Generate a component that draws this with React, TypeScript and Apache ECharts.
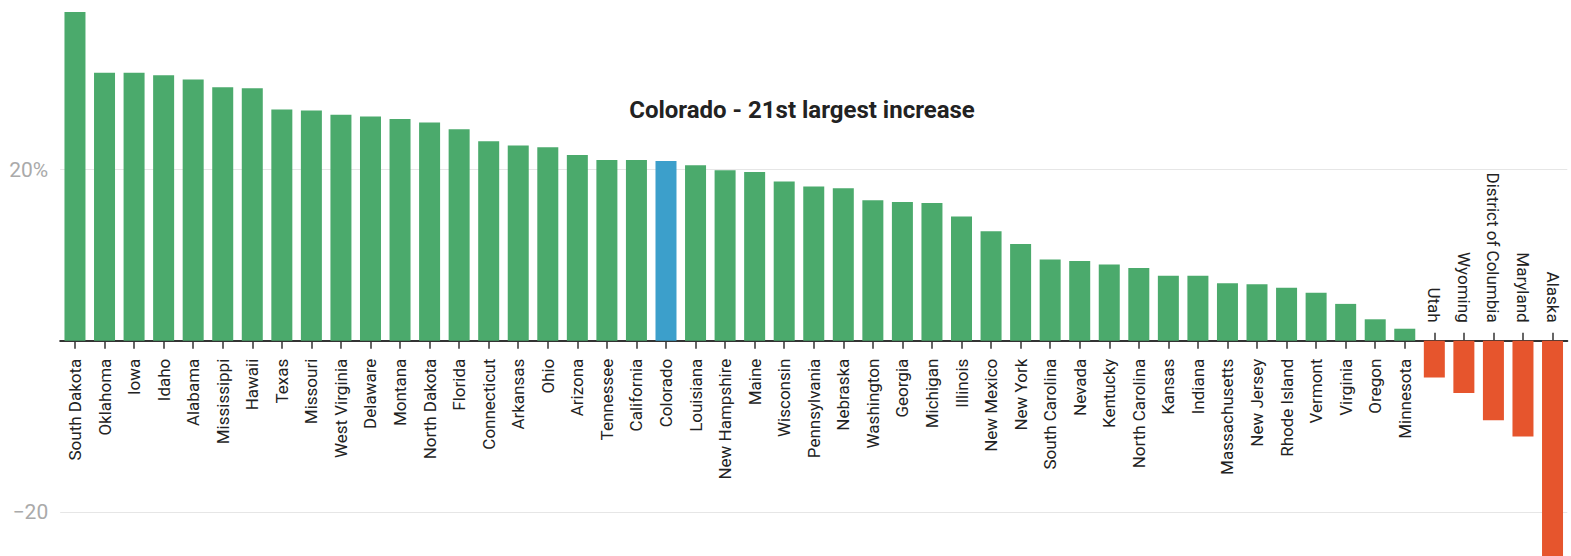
import React, { useEffect, useRef } from "react";
import * as echarts from "echarts";

const states: string[] = [
  "South Dakota", "Oklahoma", "Iowa", "Idaho", "Alabama", "Mississippi", "Hawaii",
  "Texas", "Missouri", "West Virginia", "Delaware", "Montana", "North Dakota", "Florida",
  "Connecticut", "Arkansas", "Ohio", "Arizona", "Tennessee", "California", "Colorado",
  "Louisiana", "New Hampshire", "Maine", "Wisconsin", "Pennsylvania", "Nebraska",
  "Washington", "Georgia", "Michigan", "Illinois", "New Mexico", "New York",
  "South Carolina", "Nevada", "Kentucky", "North Carolina", "Kansas", "Indiana",
  "Massachusetts", "New Jersey", "Rhode Island", "Vermont", "Virginia", "Oregon",
  "Minnesota", "Utah", "Wyoming", "District of Columbia", "Maryland", "Alaska",
];

const changes: number[] = [
  38.4, 31.3, 31.3, 31.0, 30.5, 29.6, 29.5,
  27.0, 26.9, 26.4, 26.2, 25.9, 25.5, 24.7,
  23.3, 22.8, 22.6, 21.7, 21.1, 21.1, 21.0,
  20.5, 19.9, 19.7, 18.6, 18.0, 17.8,
  16.4, 16.2, 16.1, 14.5, 12.8, 11.3,
  9.5, 9.3, 8.9, 8.5, 7.6, 7.6,
  6.7, 6.6, 6.2, 5.6, 4.3, 2.5,
  1.4, -4.3, -6.1, -9.3, -11.2, -26.0,
];

const highlighted = "Colorado";
const titleText = "Colorado - 21st largest increase";
const yTicks: { value: number; label: string }[] = [
  { value: 20, label: "20%" },
  { value: -20, label: "\u221220" },
];

const GREEN = "#4BAA6C";
const BLUE = "#3C9FCB";
const ORANGE = "#E6552D";
const FONT = "Roboto, 'Noto Sans', sans-serif";

// layout (inner chart div is shifted up by 20px)
const GRID_TOP = 18.3;
const GRID_BOTTOM = 16.9;
const INNER_H = 720;
const Y_MIN = -40;
const Y_MAX = 40;

export default function App() {
  const ref = useRef<HTMLDivElement>(null);

  useEffect(() => {
    if (!ref.current) return;
    const chart = echarts.init(ref.current, undefined, { renderer: "svg" });
    const isNeg = (i: number) => changes[i] < 0;

    const plotH = INNER_H - GRID_TOP - GRID_BOTTOM;
    const zeroFromTop = (plotH * Y_MAX) / (Y_MAX - Y_MIN);
    const zeroFromBottom = plotH - zeroFromTop;

    const barData = changes.map((v, i) => ({
      value: v,
      itemStyle: {
        color: states[i] === highlighted ? BLUE : v < 0 ? ORANGE : GREEN,
      },
    }));

    const labelBase = {
      rotate: 90,
      fontSize: 17,
      color: "#222",
      fontFamily: FONT,
      margin: 18,
    };

    const tickStyle = {
      show: true,
      alignWithLabel: true,
      length: 8,
      interval: 0,
      lineStyle: { color: "#333", width: 1.5 },
    };

    chart.setOption({
      animation: false,
      grid: {
        left: 60.2,
        right: 3.7,
        top: GRID_TOP,
        bottom: GRID_BOTTOM,
        containLabel: false,
        outerBoundsMode: "none",
      },
      xAxis: [
        {
          type: "category",
          data: states,
          position: "bottom",
          offset: -zeroFromBottom,
          axisLine: {
            onZero: false,
            lineStyle: { color: "#333", width: 2 },
          },
          axisTick: tickStyle,
          axisLabel: {
            ...labelBase,
            interval: (i: number) => !isNeg(i),
          },
          splitLine: { show: false },
        },
        {
          type: "category",
          data: states,
          position: "top",
          offset: -zeroFromTop,
          axisLine: {
            show: false,
            onZero: false,
          },
          axisTick: tickStyle,
          axisLabel: {
            ...labelBase,
            interval: (i: number) => isNeg(i),
          },
          splitLine: { show: false },
        },
      ],
      yAxis: {
        type: "value",
        min: Y_MIN,
        max: Y_MAX,
        interval: 20,
        axisLine: { show: false },
        axisTick: { show: false },
        splitLine: { lineStyle: { color: "#e6e6e6", width: 1 } },
        axisLabel: {
          fontSize: 21,
          color: "#aaaaaa",
          fontFamily: FONT,
          margin: 12,
          formatter: (v: number) => {
            const t = yTicks.find((d) => d.value === v);
            return t ? t.label : "";
          },
        },
      },
      graphic: [
        {
          type: "text",
          x: 802,
          y: 130,
          style: {
            text: titleText,
            fontSize: 24,
            fontWeight: "bold",
            fontFamily: FONT,
            fill: "#222",
            align: "center",
            verticalAlign: "middle",
          },
        },
      ],
      series: [
        {
          type: "bar",
          xAxisIndex: 0,
          barWidth: 21,
          data: barData,
        },
      ],
    });

    return () => chart.dispose();
  }, []);

  return (
    <div
      style={{
        position: "absolute",
        left: 0,
        top: 0,
        width: 1571,
        height: 556,
        overflow: "hidden",
        background: "#fff",
      }}
    >
      <div
        ref={ref}
        style={{ position: "absolute", left: 0, top: -20, width: 1571, height: INNER_H }}
      />
    </div>
  );
}
